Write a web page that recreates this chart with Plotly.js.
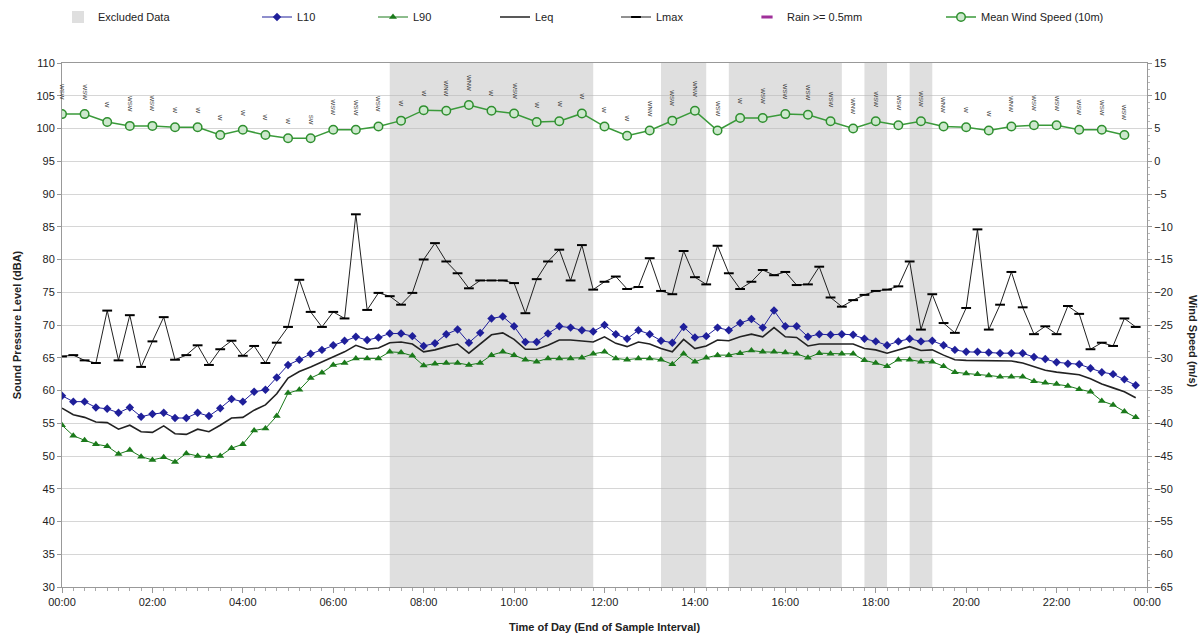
<!DOCTYPE html>
<html><head><meta charset="utf-8">
<script src="https://cdn.plot.ly/plotly-3.0.1.min.js"></script>
<style>html,body{margin:0;padding:0;background:#fff}#chart{width:1204px;height:639px}</style>
</head><body><div id="chart"></div>
<script>
// ---- data ----
const l10 = [59.2,58.3,58.3,57.4,57.2,56.6,57.4,56.0,56.4,56.6,55.8,55.8,56.6,56.1,57.3,58.7,58.3,59.8,60.1,62.0,63.9,64.7,65.6,66.2,66.9,67.6,68.2,67.7,68.1,68.7,68.7,68.3,66.8,67.2,68.6,69.3,67.3,68.8,71.0,71.3,69.8,67.4,67.4,68.7,69.8,69.6,69.2,69.0,70.0,68.6,67.9,69.2,68.6,67.6,67.3,69.7,68.1,68.3,69.6,69.2,70.3,70.9,69.6,72.2,69.8,69.8,68.2,68.6,68.5,68.6,68.5,67.9,67.5,66.9,67.5,67.9,67.5,67.6,66.9,66.2,65.9,65.9,65.8,65.7,65.7,65.7,65.1,64.8,64.3,64.1,64.0,63.4,62.8,62.5,61.7,60.8];
const l90 = [54.7,53.1,52.4,51.8,51.5,50.3,50.9,49.9,49.4,49.8,49.1,50.4,50.0,49.9,50.0,51.2,51.8,53.9,54.2,56.1,59.6,60.1,61.9,62.7,63.9,64.2,64.9,64.9,64.9,65.9,65.8,65.3,63.8,64.1,64.2,64.2,63.9,64.2,65.4,65.9,65.4,64.7,64.4,64.9,64.9,64.9,65.0,65.6,65.9,64.9,64.7,64.9,64.9,64.7,64.0,65.6,64.4,65.0,65.4,65.4,65.7,66.1,65.9,65.9,65.8,65.6,65.0,65.7,65.6,65.6,65.6,64.6,64.2,63.7,64.7,64.7,64.4,64.4,63.7,62.8,62.6,62.5,62.3,62.1,62.1,62.1,61.4,61.2,61.0,60.7,60.2,59.8,58.4,57.8,56.8,55.9];
const leq = [57.3,56.3,55.9,55.2,55.1,54.1,54.7,53.7,53.6,54.6,53.4,53.3,54.1,53.7,54.7,55.8,55.9,57.0,57.8,59.5,61.9,62.9,63.6,64.4,65.2,65.9,66.9,66.3,66.5,67.3,67.4,67.1,65.9,66.2,66.7,67.1,65.7,67.1,68.5,68.8,67.8,66.3,66.3,66.9,67.7,67.7,67.6,67.4,68.2,67.2,66.7,67.4,67.1,66.4,65.9,67.8,66.4,66.8,67.7,67.6,68.2,68.6,68.2,69.6,68.2,68.1,66.8,67.1,67.1,67.1,67.1,66.4,66.2,65.7,66.2,66.7,66.1,66.2,65.4,64.7,64.6,64.6,64.6,64.5,64.5,64.2,63.6,63.1,62.8,62.6,62.4,61.8,61.0,60.4,59.8,58.9];
const lmax = [65.2,65.4,64.6,64.2,72.2,64.6,71.5,63.6,67.5,71.2,64.7,65.4,66.9,63.9,66.3,67.6,65.3,66.8,64.2,67.3,69.7,76.9,72.0,69.7,72.0,71.0,86.9,72.3,74.9,74.4,73.1,74.9,80.0,82.5,79.7,77.9,75.6,76.8,76.8,76.8,76.4,71.8,77.0,79.7,81.5,76.8,82.2,75.4,76.6,77.4,75.5,75.8,80.2,75.2,74.7,81.3,77.3,76.2,82.1,77.9,75.5,76.6,78.4,77.6,78.1,76.1,76.2,78.9,74.2,72.8,73.8,74.6,75.2,75.4,75.9,79.7,69.3,74.7,70.3,68.8,72.6,84.6,69.3,73.1,78.1,72.7,68.6,69.8,68.6,72.9,71.7,66.3,67.3,66.8,71.0,69.7];
const windSpeed = [7.2,7.2,6.0,5.4,5.4,5.2,5.2,4.0,4.8,4.0,3.5,3.5,4.8,4.8,5.3,6.2,7.8,7.7,8.6,7.7,7.3,6.0,6.1,7.3,5.3,3.9,4.7,6.2,7.7,4.7,6.6,6.6,7.2,7.1,6.1,5.0,6.1,5.5,6.1,5.3,5.2,4.7,5.3,5.5,5.5,4.8,4.8,4.0];
const windDir = ["WSW","WSW","W","WSW","WSW","W","W","W","W","W","W","SW","WSW","WSW","WSW","W","W","WNW","WNW","W","WSW","W","W","W","W","W","WNW","WSW","WNW","WSW","W","WSW","WSW","WSW","WSW","WNW","WSW","WSW","WSW","WNW","W","W","WNW","WSW","WSW","WSW","WSW","WSW"];
const rain = [];
const exclStart = ["00:00","07:15","13:15","14:45","17:45","18:45"];
const exclEnd   = ["01:15","11:45","14:15","17:15","18:15","19:15"];
const levelStepMin = 15, windStepMin = 30;

// ---- helpers ----
function pad(n){return (n<10?'0':'')+n;}
function stamp(min){const d=Math.floor(min/1440), m=min%1440; return '2000-01-'+pad(1+d)+' '+pad(Math.floor(m/60))+':'+pad(m%60)+':00';}
function toMin(s){const p=s.split(':');return (+p[0])*60+(+p[1]);}
const tLevel = l10.map((_,i)=>stamp(i*levelStepMin));
const tWind = windSpeed.map((_,i)=>stamp(i*windStepMin));
const exclMid = exclStart.map((s,i)=>stamp((toMin(s)+toMin(exclEnd[i]))/2));
const exclWidth = exclStart.map((s,i)=>(toMin(exclEnd[i])-toMin(s))*60000);

const FONT = 'Liberation Sans, Arial, sans-serif';
const traces = [
 {type:'bar', name:'Excluded Data', x:exclMid, width:exclWidth, base:exclStart.map(()=>30), y:exclStart.map(()=>80),
  marker:{color:'rgba(185,185,185,0.45)', line:{width:0}}, hoverinfo:'skip', legend:'legend'},
 {type:'scatter', mode:'lines+markers', name:'L10', x:tLevel, y:l10, line:{color:'#1f1f9a', width:1},
  marker:{symbol:'diamond', size:6.5, color:'#1f1f9a'}, legend:'legend2'},
 {type:'scatter', mode:'lines+markers', name:'L90', x:tLevel, y:l90, line:{color:'#1b7a1b', width:1},
  marker:{symbol:'triangle-up', size:7, color:'#1b7a1b'}, legend:'legend3'},
 {type:'scatter', mode:'lines', name:'Leq', x:tLevel, y:leq, line:{color:'#222', width:1.6}, legend:'legend4'},
 {type:'scatter', mode:'lines+markers', name:'Lmax', x:tLevel, y:lmax, line:{color:'#222', width:1},
  marker:{symbol:'line-ew', size:7, color:'#000', line:{color:'#000', width:2}}, legend:'legend5'},
 {type:'scatter', mode:'markers', name:'Rain >= 0.5mm', x:rain.length?rain:[null], y:rain.length?rain:[null], yaxis:'y2',
  marker:{symbol:'line-ew', size:8, color:'#a0309a', line:{color:'#a0309a', width:3}}, legend:'legend6'},
 {type:'scatter', mode:'lines+markers', name:'Mean Wind Speed (10m)', x:tWind, y:windSpeed, yaxis:'y2',
  line:{color:'#3a9a3a', width:1.5}, marker:{symbol:'circle', size:8.5, color:'#cde8cd', line:{color:'#2f8f2f', width:1.5}}, legend:'legend7'}
];

const annotations = windDir.map((d,i)=>({x:tWind[i], y:windSpeed[i], xref:'x', yref:'y2', text:d, showarrow:false,
  textangle:90, yshift:12, yanchor:'bottom', font:{size:6, color:'#333', family:FONT}}));
annotations.push({xref:'paper', yref:'paper', x:1.05, y:0.469, text:'<b>Wind Speed (m/s)</b>', showarrow:false,
  textangle:90, font:{size:11, color:'#222', family:FONT}});

const PW=1085, PH=524;
function lx(px){return (px-62)/PW;}
const ly = (587-17)/PH;
function leg(px){return {x:lx(px), y:ly, xanchor:'left', yanchor:'middle', orientation:'h', bgcolor:'rgba(0,0,0,0)',
  font:{size:11, color:'#222', family:FONT}};}

const layout = {
 width:1204, height:639, margin:{l:62, r:57, t:63, b:52, autoexpand:false},
 paper_bgcolor:'#fff', plot_bgcolor:'#fff', font:{family:FONT, size:11, color:'#222'},
 showlegend:true, barmode:'overlay',
 legend:leg(58), legend2:leg(257), legend3:leg(373), legend4:leg(495), legend5:leg(616), legend6:leg(747), legend7:leg(941),
 xaxis:{type:'date', range:[stamp(0), stamp(1440)], tickformat:'%H:%M', dtick:7200000, tick0:stamp(0),
   ticks:'outside', ticklen:5, tickcolor:'#999', showline:true, linecolor:'#999', mirror:true, showgrid:false, zeroline:false,
   minor:{dtick:900000, ticks:'outside', ticklen:3, tickcolor:'#aaa', showgrid:false},
   tickfont:{size:11, color:'#222'}, title:{text:'<b>Time of Day (End of Sample Interval)</b>', font:{size:11, color:'#222'}, standoff:16}},
 yaxis:{range:[30,110], dtick:5, showgrid:true, gridcolor:'#d6d6d6', showline:true, linecolor:'#999', ticks:'outside', ticklen:4,
   tickcolor:'#999', zeroline:false, tickfont:{size:11, color:'#222'},
   title:{text:'<b>Sound Pressure Level (dBA)</b>', font:{size:11, color:'#222'}, standoff:12}},
 yaxis2:{overlaying:'y', side:'right', range:[-65,15], dtick:5, showgrid:false, zeroline:false, showline:true, linecolor:'#999',
   ticks:'outside', ticklen:4, tickcolor:'#999', minor:{dtick:1, ticks:'outside', ticklen:2, tickcolor:'#bbb'},
   tickfont:{size:11, color:'#222'}},
 annotations:annotations
};
Plotly.newPlot('chart', traces, layout, {displayModeBar:false, staticPlot:true});
</script></body></html>
